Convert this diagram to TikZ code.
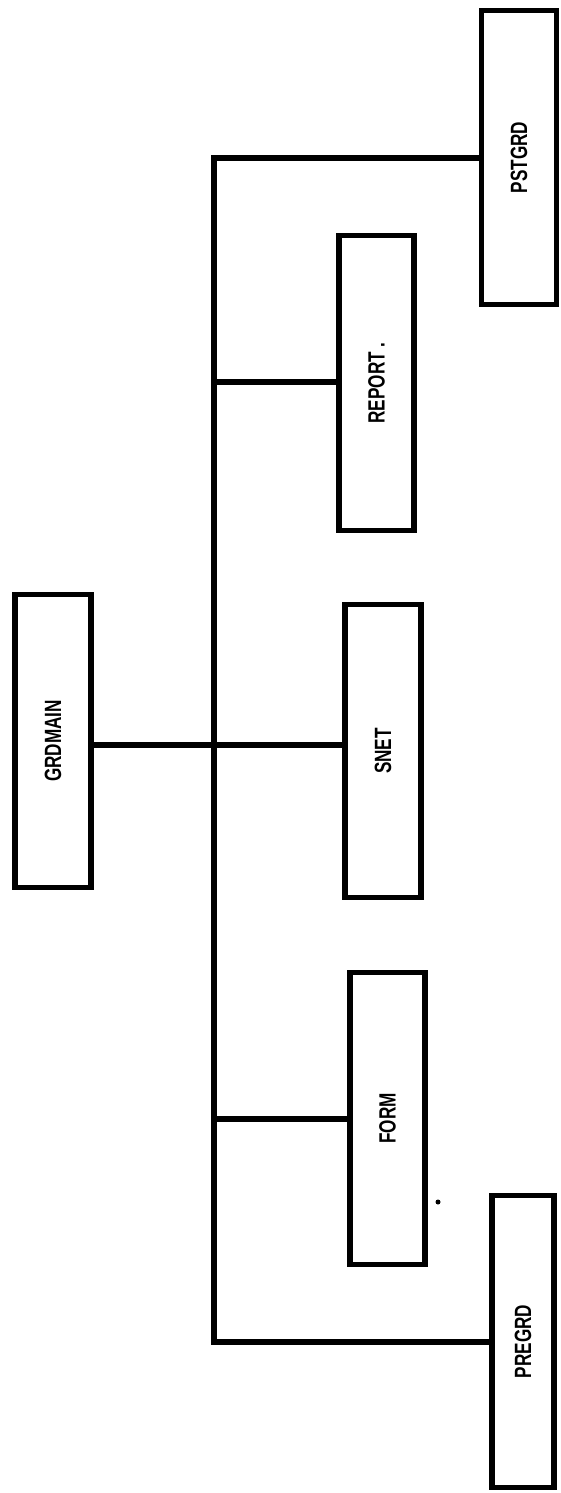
\documentclass[tikz,border=0pt]{standalone}
\usepackage{fontspec}
\setmainfont{Liberation Sans}
\newcommand{\boxlabel}[1]{\rotatebox{90}{\scalebox{0.73}[1]{\fontsize{23.5}{24}\selectfont\bfseries #1}}}
\begin{document}
\begin{tikzpicture}[x=1pt,y=-1pt,
  modbox/.style={draw, line width=5.5pt, inner sep=0pt, minimum width=#1, fill=white},
  modbox/.default=75pt,
  wire/.style={line width=5.5pt, line join=miter}]
\useasboundingbox (0,0) rectangle (561,1493);
% boxes
\node[modbox=76pt, minimum height=293pt] (GRDMAIN) at (53,741) {\boxlabel{GRDMAIN}};
\node[modbox=75pt, minimum height=294pt] (PSTGRD) at (519,157.5) {\boxlabel{PSTGRD}};
\node[modbox=75pt, minimum height=295pt] (REPORT) at (376.5,383) {\boxlabel{REPORT .}};
\node[modbox=76pt, minimum height=293pt] (SNET) at (383,751) {\boxlabel{SNET}};
\node[modbox=75pt, minimum height=292pt] (FORM) at (387.5,1118.5) {\boxlabel{FORM}};
\node[modbox=62pt, minimum height=292pt] (PREGRD) at (523,1341.5) {\boxlabel{PREGRD}};
% junction coordinates on the trunk
\coordinate (jtop) at (214,158);
\coordinate (jrep) at (214,382);
\coordinate (jmain) at (214,745);
\coordinate (jform) at (214,1119);
\coordinate (jbot) at (214,1342);
% trunk with end branches
\draw[wire] (PSTGRD.west |- jtop) -- (jtop) -- (jbot) -- (PREGRD.west |- jbot);
% branches
\draw[wire] (jrep) -- (REPORT.west |- jrep);
\draw[wire] (GRDMAIN.east |- jmain) -- (SNET.west |- jmain);
\draw[wire] (jform) -- (FORM.west |- jform);
% stray dot
\fill (438,1202) circle (2.5pt);
\end{tikzpicture}
\end{document}
